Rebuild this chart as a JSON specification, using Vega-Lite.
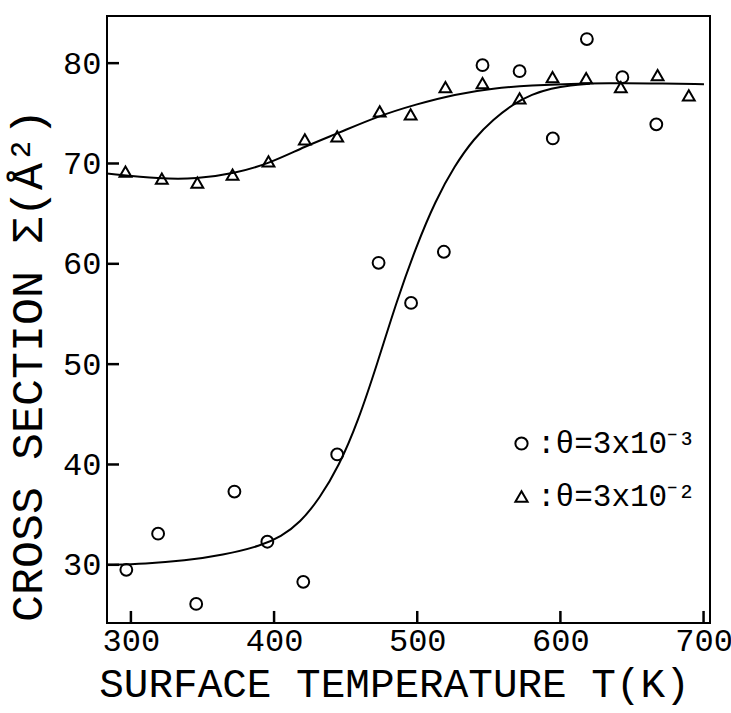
{
  "$schema": "https://vega.github.io/schema/vega-lite/v6.json",
  "width": 603,
  "height": 607,
  "autosize": "none",
  "padding": {"left": 107, "top": 16, "right": 21, "bottom": 90},
  "background": "white",
  "config": {
    "view": {"stroke": "black", "strokeWidth": 2},
    "font": "Liberation Mono",
    "axis": {
      "grid": false,
      "domain": false,
      "ticks": false,
      "tickSize": 0,
      "labelFont": "Liberation Mono",
      "labelFontSize": 32,
      "labelFontWeight": "normal",
      "labelColor": "black",
      "titleFont": "Liberation Mono",
      "titleFontWeight": "normal",
      "titleColor": "black"
    },
    "legend": {
      "labelFont": "Liberation Mono",
      "labelFontWeight": "normal"
    }
  },
  "datasets": {
    "points": [
      {"T": 296.8, "sigma": 29.5, "series": "θ=3x10⁻³"},
      {"T": 319.0, "sigma": 33.1, "series": "θ=3x10⁻³"},
      {"T": 345.6, "sigma": 26.1, "series": "θ=3x10⁻³"},
      {"T": 372.3, "sigma": 37.3, "series": "θ=3x10⁻³"},
      {"T": 395.3, "sigma": 32.3, "series": "θ=3x10⁻³"},
      {"T": 420.4, "sigma": 28.3, "series": "θ=3x10⁻³"},
      {"T": 444.1, "sigma": 41.0, "series": "θ=3x10⁻³"},
      {"T": 473.0, "sigma": 60.1, "series": "θ=3x10⁻³"},
      {"T": 495.7, "sigma": 56.1, "series": "θ=3x10⁻³"},
      {"T": 518.6, "sigma": 61.2, "series": "θ=3x10⁻³"},
      {"T": 545.6, "sigma": 79.8, "series": "θ=3x10⁻³"},
      {"T": 571.5, "sigma": 79.2, "series": "θ=3x10⁻³"},
      {"T": 594.7, "sigma": 72.5, "series": "θ=3x10⁻³"},
      {"T": 618.5, "sigma": 82.4, "series": "θ=3x10⁻³"},
      {"T": 643.3, "sigma": 78.6, "series": "θ=3x10⁻³"},
      {"T": 667.0, "sigma": 73.9, "series": "θ=3x10⁻³"},
      {"T": 296.2, "sigma": 69.2, "series": "θ=3x10⁻²"},
      {"T": 321.6, "sigma": 68.5, "series": "θ=3x10⁻²"},
      {"T": 346.4, "sigma": 68.1, "series": "θ=3x10⁻²"},
      {"T": 371.0, "sigma": 68.9, "series": "θ=3x10⁻²"},
      {"T": 396.1, "sigma": 70.2, "series": "θ=3x10⁻²"},
      {"T": 421.5, "sigma": 72.4, "series": "θ=3x10⁻²"},
      {"T": 444.1, "sigma": 72.7, "series": "θ=3x10⁻²"},
      {"T": 473.8, "sigma": 75.2, "series": "θ=3x10⁻²"},
      {"T": 495.4, "sigma": 74.9, "series": "θ=3x10⁻²"},
      {"T": 519.7, "sigma": 77.6, "series": "θ=3x10⁻²"},
      {"T": 545.6, "sigma": 78.0, "series": "θ=3x10⁻²"},
      {"T": 571.5, "sigma": 76.5, "series": "θ=3x10⁻²"},
      {"T": 594.5, "sigma": 78.6, "series": "θ=3x10⁻²"},
      {"T": 618.0, "sigma": 78.5, "series": "θ=3x10⁻²"},
      {"T": 642.2, "sigma": 77.6, "series": "θ=3x10⁻²"},
      {"T": 667.9, "sigma": 78.8, "series": "θ=3x10⁻²"},
      {"T": 689.7, "sigma": 76.8, "series": "θ=3x10⁻²"}
    ],
    "fits": [
      {"T": 283.3, "sigma": 30.0, "curve": "low"},
      {"T": 310.3, "sigma": 30.1, "curve": "low"},
      {"T": 337.2, "sigma": 30.4, "curve": "low"},
      {"T": 364.2, "sigma": 30.96, "curve": "low"},
      {"T": 391.2, "sigma": 31.9, "curve": "low"},
      {"T": 404.7, "sigma": 32.8, "curve": "low"},
      {"T": 418.2, "sigma": 34.2, "curve": "low"},
      {"T": 431.7, "sigma": 36.6, "curve": "low"},
      {"T": 445.2, "sigma": 39.8, "curve": "low"},
      {"T": 458.7, "sigma": 44.3, "curve": "low"},
      {"T": 472.2, "sigma": 50.1, "curve": "low"},
      {"T": 485.7, "sigma": 56.3, "curve": "low"},
      {"T": 499.2, "sigma": 61.7, "curve": "low"},
      {"T": 512.7, "sigma": 66.3, "curve": "low"},
      {"T": 526.2, "sigma": 69.8, "curve": "low"},
      {"T": 539.7, "sigma": 72.5, "curve": "low"},
      {"T": 553.2, "sigma": 74.4, "curve": "low"},
      {"T": 566.7, "sigma": 75.9, "curve": "low"},
      {"T": 580.2, "sigma": 76.9, "curve": "low"},
      {"T": 593.7, "sigma": 77.5, "curve": "low"},
      {"T": 607.2, "sigma": 77.8, "curve": "low"},
      {"T": 620.6, "sigma": 77.95, "curve": "low"},
      {"T": 283.3, "sigma": 69.0, "curve": "high"},
      {"T": 321.0, "sigma": 68.45, "curve": "high"},
      {"T": 345.3, "sigma": 68.45, "curve": "high"},
      {"T": 372.3, "sigma": 69.0, "curve": "high"},
      {"T": 396.6, "sigma": 70.0, "curve": "high"},
      {"T": 421.5, "sigma": 71.7, "curve": "high"},
      {"T": 445.2, "sigma": 73.05, "curve": "high"},
      {"T": 472.2, "sigma": 74.7, "curve": "high"},
      {"T": 499.2, "sigma": 75.9, "curve": "high"},
      {"T": 526.2, "sigma": 76.9, "curve": "high"},
      {"T": 553.2, "sigma": 77.5, "curve": "high"},
      {"T": 580.2, "sigma": 77.8, "curve": "high"},
      {"T": 607.2, "sigma": 77.95, "curve": "high"},
      {"T": 634.1, "sigma": 78.0, "curve": "high"},
      {"T": 661.1, "sigma": 78.0, "curve": "high"},
      {"T": 700.3, "sigma": 77.9, "curve": "high"}
    ],
    "xticks": [{"T": 300}, {"T": 400}, {"T": 500}, {"T": 600}, {"T": 700}],
    "yticks": [{"sigma": 30}, {"sigma": 40}, {"sigma": 50}, {"sigma": 60}, {"sigma": 70}, {"sigma": 80}]
  },
  "layer": [
    {
      "data": {"name": "xticks"},
      "mark": {"type": "rule", "color": "black", "strokeWidth": 2.5},
      "encoding": {
        "x": {"field": "T", "type": "quantitative"},
        "y": {"datum": 24.2},
        "y2": {"datum": 25.4}
      }
    },
    {
      "data": {"name": "yticks"},
      "mark": {"type": "rule", "color": "black", "strokeWidth": 2.5},
      "encoding": {
        "y": {"field": "sigma", "type": "quantitative"},
        "x": {"datum": 283.3},
        "x2": {"datum": 291.7}
      }
    },
    {
      "data": {"name": "fits"},
      "mark": {"type": "line", "interpolate": "basis", "color": "black", "strokeWidth": 2},
      "encoding": {
        "x": {"field": "T", "type": "quantitative"},
        "y": {"field": "sigma", "type": "quantitative"},
        "detail": {"field": "curve"}
      }
    },
    {
      "data": {"name": "points"},
      "mark": {"type": "point", "filled": false, "color": "black", "strokeWidth": 2, "size": 140, "opacity": 1},
      "encoding": {
        "x": {
          "field": "T", "type": "quantitative",
          "scale": {"domain": [283.3, 704.5], "nice": false, "zero": false},
          "axis": {"values": [300, 400, 500, 600, 700], "labelPadding": 2, "title": "SURFACE TEMPERATURE T(K)", "titleFontSize": 41, "titlePadding": 8, "titleX": 287}
        },
        "y": {
          "field": "sigma", "type": "quantitative",
          "scale": {"domain": [24.2, 84.7], "nice": false, "zero": false},
          "axis": {"values": [30, 40, 50, 60, 70, 80], "labelPadding": 6, "title": "CROSS SECTION Σ(Å²)", "titleFontSize": 45, "titlePadding": 12, "titleY": 349}
        },
        "shape": {
          "field": "series", "type": "nominal",
          "scale": {"domain": ["θ=3x10⁻³", "θ=3x10⁻²"], "range": ["circle", "triangle-up"]},
          "legend": {
            "orient": "none", "legendX": 399, "legendY": 412, "title": null, "padding": 0,
            "labelFontSize": 31, "labelColor": "black", "labelOffset": 0, "rowPadding": 21, "labelLimit": 0,
            "symbolSize": 150, "symbolStrokeWidth": 2, "symbolStrokeColor": "black", "symbolFillColor": "transparent",
            "labelExpr": "':' + datum.label"
          }
        }
      }
    }
  ]
}
